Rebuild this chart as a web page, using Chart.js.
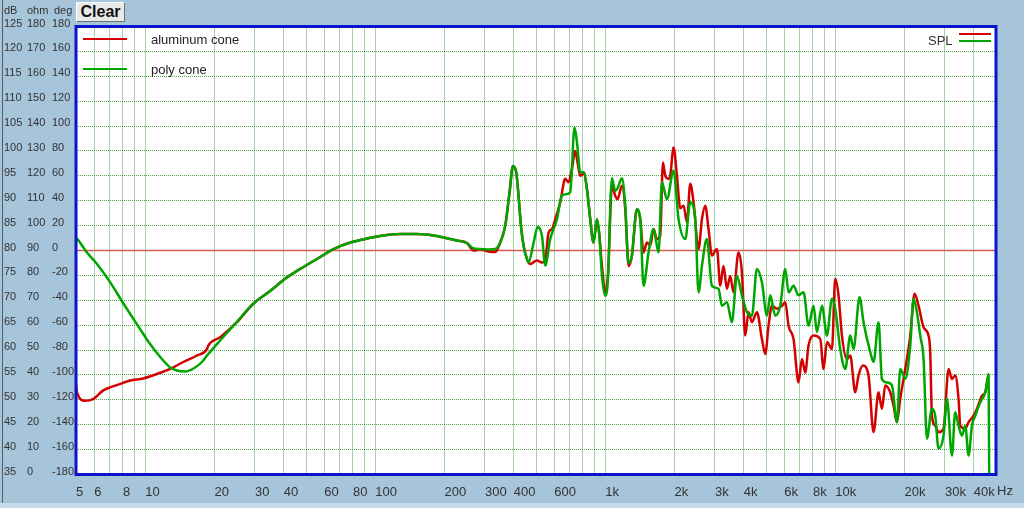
<!DOCTYPE html>
<html>
<head>
<meta charset="utf-8">
<script src="https://cdn.jsdelivr.net/npm/chart.js@4.4.0/dist/chart.umd.min.js"></script>
<style>
    html, body { margin: 0; padding: 0; background: #a6c4da; }
    #wrap { position: relative; width: 1024px; height: 508px; overflow: hidden; }
    #clearBtn {
        position: absolute; left: 76px; top: 2px; width: 49px; height: 20px;
        box-sizing: border-box; background: #e8e8e8;
        border-top: 1px solid #ffffff; border-left: 1px solid #ffffff;
        border-right: 1px solid #707070; border-bottom: 1px solid #707070;
        font: bold 16px "Liberation Sans", Arial, sans-serif; color: #111;
        text-align: center; line-height: 18px;
    }
</style>
</head>
<body>
<div id="wrap">
    <canvas id="splChart" width="1024" height="508"></canvas>
    <div id="clearBtn">Clear</div>
</div>
<script>
// aluminum cone (red)
const aluFreq = [5, 5.05, 5.48, 5.96, 6.57, 7.04, 7.79, 8.61, 9.8, 11.24, 12.85, 14.63, 16.78, 18.55, 18.79, 21.2, 25.04, 29.5, 35, 41.3,
    47.2, 55.8, 65.9, 77.9, 92, 108.7, 128.5, 151.8, 179.3, 198.2, 226.5, 250.4, 267.6, 286.1, 310.9, 332.4, 349.6, 367.5, 383.7, 397,
    410.3, 419.8, 430, 441.3, 456.6, 464, 472, 504.7, 530.6, 548.4, 567, 586.6, 606.3, 637.4, 670, 692.5, 716.5, 740.7, 758, 778.6,
    804.8, 832.5, 860.6, 889.5, 920.3, 941.8, 967.6, 1000, 1027, 1069, 1105, 1131, 1182, 1222, 1263, 1306, 1373, 1420, 1467, 1518,
    1570, 1622, 1678, 1734, 1782, 1824, 1884, 1917, 1982, 2050, 2119, 2190, 2266, 2342, 2421, 2545, 2633, 2721, 2813, 2910,
    3060, 3162, 3268, 3381, 3495, 3612, 3798, 3929, 4061, 4198, 4343, 4566, 4800, 4963, 5129, 5307, 5579, 5867, 6063, 6266,
    6588, 6925, 7166, 7406, 7655, 8049, 8607, 8896, 9202, 9676, 10000, 10335, 10693, 11242, 11620, 12218, 12627, 13195, 13956, 14672,
    15431, 15959, 16497, 17343, 17927, 18549, 19170, 20155, 21195, 22127, 23031, 24210, 25449, 25882, 26326, 27212, 28124, 29574, 31090, 32167,
    33245, 34365, 34958, 36751, 37985, 39943, 41327, 43436, 44900, 46404];
const aluSpl = [53.2, 51.5, 49.8, 50.2, 51.9, 52.5, 53.2, 53.9, 54.3, 55.2, 56.2, 57.6, 58.9, 60.2, 60.9, 62.6, 65.6, 69.3, 71.9, 74.6,
    76.3, 78.3, 80.3, 81.6, 82.4, 83, 83.3, 83.3, 83, 82.6, 82, 81.5, 80, 80.2, 79.8, 79.7, 81.6, 85, 91.7, 97,
    95.7, 91, 85, 81, 78.3, 77.6, 77.3, 78, 77.6, 78, 83.6, 84.3, 86.3, 89.7, 94.4, 93.7, 96.4, 100, 97.7, 95,
    95.4, 92.4, 86.3, 81.6, 86.3, 83.3, 76.9, 71.6, 74.9, 93, 91, 90.3, 93, 88.3, 76.9, 79, 88.3, 86.3, 79.6, 81.6,
    81, 84.3, 82.3, 83, 97.7, 95, 94.4, 95, 100.7, 95, 88.5, 89, 85.7, 93.4, 89.7, 80.3, 86.3, 89, 84.3, 79,
    80.3, 72.9, 76.9, 72.3, 74.9, 71.6, 79.6, 75.6, 62.9, 67.6, 65.6, 67.6, 62.2, 59.2, 64.9, 68.9, 68.3, 68.9, 69.6, 64.9,
    62.2, 53.5, 58.2, 55.5, 60.9, 62.9, 62.2, 56.2, 61.6, 60.2, 74.3, 71, 62.9, 58.2, 58.9, 51.5, 54.9, 56.9, 54.9, 43.5,
    51.5, 48.2, 52.9, 51.5, 48.8, 45.5, 50.2, 56.2, 62.9, 71.3, 68.9, 64.6, 62.9, 59.6, 46.8, 44.8, 43.5, 44.2, 56.2, 54.2,
    54.9, 50.2, 44.8, 44.2, 45.5, 46.8, 48.2, 50.8, 51.5, 54.9];

// poly cone (green)
const polyFreq = [5, 5.13, 5.58, 6.17, 7.04, 8.05, 9.2, 10.5, 11.62, 12.85, 13.73, 14.93, 16.22, 17.64, 18.55, 20.5, 24.2, 29.5, 35, 41.3,
    47.2, 55.8, 65.9, 77.9, 92, 108.7, 128.5, 151.8, 179.3, 198.2, 226.5, 250.4, 267.6, 286.1, 310.9, 332.4, 349.6, 367.5, 383.7, 397,
    410.3, 419.8, 430, 441.3, 456.6, 464, 488.4, 507.8, 530.6, 548.4, 576.7, 616.6, 648, 676.8, 704.3, 735.4, 753.5, 778.6, 810.4, 832.5,
    860.6, 889.5, 920.3, 941.8, 967.6, 1000, 1027, 1069, 1105, 1131, 1182, 1222, 1263, 1306, 1373, 1420, 1467, 1543, 1622, 1705,
    1764, 1855, 1982, 2083, 2228, 2342, 2462, 2545, 2633, 2765, 2910, 3108, 3217, 3381, 3555, 3737, 3929, 4132, 4343, 4566,
    4800, 5047, 5217, 5484, 5768, 6063, 6266, 6588, 6925, 7282, 7655, 8049, 8325, 8755, 9202, 9676, 10000, 10513, 11054, 11620,
    12012, 12755, 13274, 14197, 14672, 15431, 15959, 16782, 17640, 18549, 19170, 20155, 21195, 21893, 22652, 23420, 24210, 25040, 26326, 27212,
    28124, 29574, 30600, 32167, 33245, 34365, 35540, 36751, 37985, 39290, 40620, 42720, 44900, 46404, 46740, 49700];
const polySpl = [82.6, 82, 79.6, 77.3, 73.6, 69.3, 65.2, 61.2, 58.6, 56.5, 55.9, 55.7, 56.3, 57.6, 58.9, 61.2, 64.9, 69.3, 71.9, 74.6,
    76.3, 78.3, 80.3, 81.6, 82.4, 83, 83.3, 83.3, 83, 82.6, 82, 81.5, 80.4, 80.3, 80.2, 80.3, 81.6, 85, 91.7, 97,
    95.7, 91, 85, 81, 78.3, 77.6, 81.6, 84.7, 83, 77, 82.3, 86.3, 91, 91.3, 91.7, 104.7, 101.8, 95.7, 95.7, 92.4,
    86.3, 81.6, 86.3, 83.3, 75, 70.9, 74, 94.5, 92, 92.5, 94.5, 89, 77.5, 79, 88.3, 86.3, 72.9, 79.6, 84.3, 79.6,
    93.7, 90.3, 96, 86.3, 82.3, 89.7, 86.3, 71.6, 76.9, 82.3, 72.9, 72.3, 68.9, 69.6, 65.6, 74.9, 71, 67.6, 66.9, 76.3,
    73.6, 66.9, 71, 66.9, 68.9, 76.3, 71.6, 72.9, 71, 71.6, 64.9, 68.9, 63.6, 68.9, 62.9, 70.3, 68.3, 60.2, 56.2, 62.9,
    60.2, 70.6, 65.6, 59.6, 57.6, 65.6, 54.2, 53.5, 52.9, 45.5, 56.2, 54.2, 60.9, 70.3, 67.6, 62.9, 58.2, 42.2, 48.2, 46.8,
    40.2, 42.8, 50.2, 38.8, 47.5, 44.8, 42.8, 44.8, 38.8, 44.8, 46.8, 49.5, 51.5, 55.2, 35, 35];

const refLevel = 80;
const freqMin = 5;
const freqMax = 50000;

// vertical grid lines and their labels
const gridFreqs = [5, 6, 7, 8, 9, 10, 20, 30, 40, 50, 60, 70, 80, 90, 100, 200, 300, 400, 500, 600, 700, 800, 900,
    1000, 2000, 3000, 4000, 5000, 6000, 7000, 8000, 9000, 10000, 20000, 30000, 40000];
const freqLabels = {5: '5', 6: '6', 8: '8', 10: '10', 20: '20', 30: '30', 40: '40', 60: '60', 80: '80', 100: '100',
    200: '200', 300: '300', 400: '400', 600: '600', 1000: '1k', 2000: '2k', 3000: '3k', 4000: '4k', 6000: '6k',
    8000: '8k', 10000: '10k', 20000: '20k', 30000: '30k', 40000: '40k'};

const legendNames = ['aluminum cone', 'poly cone'];
const curveTitle = 'SPL';
const unitTitles = ['dB', 'ohm', 'deg'];

const gridColor = 'rgba(20,140,20,0.75)';

let splChart;

document.addEventListener("DOMContentLoaded", () => {
    initializeChart();
});

function toPoints(freqs, vals) {
    return freqs.map((f, i) => ({x: f, y: vals[i]}));
}

const framePlugin = {
    id: 'frame',
    beforeDraw(chart) {
        const {ctx, chartArea: a, width, height} = chart;
        ctx.save();
        ctx.fillStyle = '#a6c4da';
        ctx.fillRect(0, 0, width, height);
        ctx.fillStyle = '#c6dae8';
        ctx.fillRect(0, height - 5, width, 5);
        ctx.fillStyle = '#ffffff';
        ctx.fillRect(a.left, a.top, a.right - a.left, a.bottom - a.top);
        ctx.strokeStyle = '#5a5a5a';
        ctx.lineWidth = 1;
        ctx.beginPath();
        ctx.moveTo(2.5, 0);
        ctx.lineTo(2.5, height - 5);
        ctx.stroke();
        ctx.restore();
    },
    afterDraw(chart) {
        const {ctx, chartArea: a, scales} = chart;
        ctx.save();
        // plot border
        ctx.strokeStyle = '#0a14c8';
        ctx.lineWidth = 3;
        ctx.strokeRect(a.left, a.top, a.right - a.left, a.bottom - a.top);

        // column titles
        ctx.fillStyle = '#333';
        ctx.font = '11px "Liberation Sans", Arial, sans-serif';
        ctx.textBaseline = 'middle';
        ctx.textAlign = 'left';
        ctx.fillText(unitTitles[0], scales.y.left, 11);
        ctx.fillText(unitTitles[1], scales.ohm.left, 11);
        ctx.fillText(unitTitles[2], scales.deg.left + 2, 11);

        // Hz unit after the last tick label
        ctx.font = '13px "Liberation Sans", Arial, sans-serif';
        ctx.fillText('Hz', 997, 491);

        // legend, top left
        const colors = ['#d40000', '#00a600'];
        [39, 69].forEach((y, i) => {
            ctx.strokeStyle = colors[i];
            ctx.lineWidth = 2;
            ctx.beginPath();
            ctx.moveTo(83, y);
            ctx.lineTo(127, y);
            ctx.stroke();
            ctx.fillStyle = '#222';
            ctx.fillText(legendNames[i], 151, y + 1);
        });

        // curve tag, top right
        ctx.fillStyle = '#333';
        ctx.fillText(curveTitle, 928, 41);
        [34, 41].forEach((y, i) => {
            ctx.strokeStyle = colors[i];
            ctx.lineWidth = 2;
            ctx.beginPath();
            ctx.moveTo(959, y);
            ctx.lineTo(991, y);
            ctx.stroke();
        });
        ctx.restore();
    }
};

function initializeChart() {
    const ctx = document.getElementById('splChart').getContext('2d');
    const tickFont = {family: '"Liberation Sans", Arial, sans-serif', size: 11};
    const sideAxis = (min, max, step, weight, w) => ({
        type: 'linear',
        position: 'left',
        min: min,
        max: max,
        weight: weight,
        grid: {display: false},
        border: {display: false},
        ticks: {stepSize: step, crossAlign: 'far', padding: 0, labelOffset: -3, color: '#333', font: tickFont},
        afterFit: (scale) => { scale.width = w; }
    });

    splChart = new Chart(ctx, {
        type: 'line',
        data: {
            datasets: [
                {
                    label: legendNames[1],
                    data: toPoints(polyFreq, polySpl),
                    borderColor: '#00a600',
                    borderWidth: 2.5,
                    pointRadius: 0,
                    cubicInterpolationMode: 'monotone',
                    yAxisID: 'y',
                    order: 0
                },
                {
                    label: legendNames[0],
                    data: toPoints(aluFreq, aluSpl),
                    borderColor: '#d40000',
                    borderWidth: 2.5,
                    pointRadius: 0,
                    cubicInterpolationMode: 'monotone',
                    yAxisID: 'y',
                    order: 1
                },
                {
                    label: 'ref',
                    data: [{x: freqMin, y: refLevel}, {x: freqMax, y: refLevel}],
                    borderColor: '#dc5a5a',
                    borderWidth: 1.5,
                    pointRadius: 0,
                    yAxisID: 'y',
                    order: 2
                }
            ]
        },
        options: {
            responsive: false,
            animation: false,
            devicePixelRatio: 1,
            layout: {padding: {left: 4, right: 28, top: 26.5, bottom: 0}},
            plugins: {legend: {display: false}, tooltip: {enabled: false}},
            scales: {
                x: {
                    type: 'logarithmic',
                    min: freqMin,
                    max: freqMax,
                    grid: {color: gridColor, lineWidth: 1, drawTicks: false, borderDash: [1, 1]},
                    border: {display: false, dash: [1, 1]},
                    afterBuildTicks: (scale) => {
                        scale.ticks = gridFreqs.map(v => ({value: v}));
                    },
                    afterFit: (scale) => { scale.height = 33.5; },
                    ticks: {
                        autoSkip: false,
                        maxRotation: 0,
                        align: 'start',
                        padding: 10,
                        color: '#333',
                        font: {family: '"Liberation Sans", Arial, sans-serif', size: 13},
                        callback: (value) => freqLabels[value] ?? ''
                    }
                },
                y: {
                    type: 'linear',
                    position: 'left',
                    min: 35,
                    max: 125,
                    weight: 2,
                    grid: {color: gridColor, lineWidth: 1, drawTicks: false, borderDash: [1, 1]},
                    border: {display: false, dash: [1, 1]},
                    ticks: {stepSize: 5, crossAlign: 'far', padding: 0, labelOffset: -3, color: '#333', font: tickFont},
                    afterFit: (scale) => { scale.width = 23; }
                },
                ohm: sideAxis(0, 180, 10, 1, 25),
                deg: sideAxis(-180, 180, 20, 0, 24)
            }
        },
        plugins: [framePlugin]
    });
}
</script>
</body>
</html>
